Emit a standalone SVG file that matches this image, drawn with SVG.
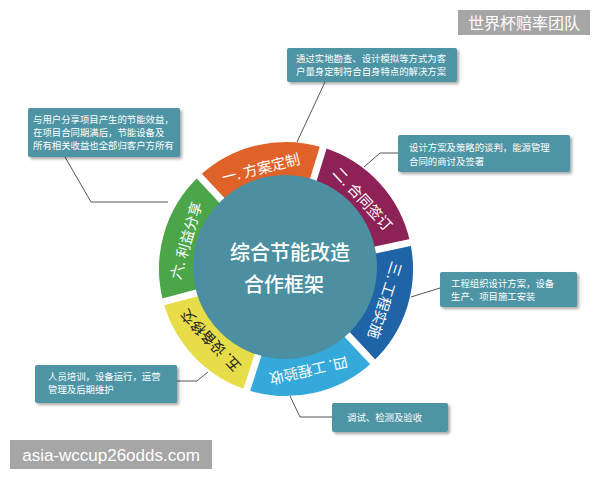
<svg xmlns="http://www.w3.org/2000/svg" width="600" height="480" viewBox="0 0 600 480">
<defs>
<filter id="sh" x="-10%" y="-20%" width="125%" height="150%">
<feDropShadow dx="2" dy="2" stdDeviation="1.5" flood-color="#000" flood-opacity="0.35"/>
</filter>
</defs>
<style>
.box{fill:#4e95a5;filter:url(#sh)}
.bt{font-family:"Noto Sans CJK SC",sans-serif;font-size:9.4px;fill:#fff}
.seg{fill:none;stroke-width:38}
.sl{font-family:"Noto Sans CJK SC",sans-serif;font-size:14.5px;fill:#fff;text-anchor:middle;dominant-baseline:central}
.ct{font-family:"Noto Sans CJK SC",sans-serif;font-size:20px;fill:#fff;text-anchor:middle;font-weight:500}
.cn{fill:none;stroke:#555;stroke-width:1}
.gap{stroke:#fff;stroke-width:7}
.wm{fill:#a6a6a6}
</style>
<rect width="600" height="480" fill="#fff"/>

<g id="connectors">
<polyline class="cn" points="325,82 297,142"/>
<polyline class="cn" points="65,157 91,202 168,202"/>
<polyline class="cn" points="398,153 380,153 364,167"/>
<polyline class="cn" points="440,288 411,297"/>
<polyline class="cn" points="177,381 197,381 208,372"/>
<polyline class="cn" points="332,417 300,417 290,396"/>
</g>

<g id="ring">
<circle id="seg1" class="seg" cx="286" cy="269" r="108" stroke="#df6228" pathLength="360" stroke-dasharray="60 300" transform="rotate(227 286 269)"/>
<circle id="seg2" class="seg" cx="286" cy="269" r="108" stroke="#8c2256" pathLength="360" stroke-dasharray="61 299" transform="rotate(-73 286 269)"/>
<circle id="seg3" class="seg" cx="286" cy="269" r="108" stroke="#1f64a6" pathLength="360" stroke-dasharray="59 301" transform="rotate(-12 286 269)"/>
<circle id="seg4" class="seg" cx="286" cy="269" r="108" stroke="#34a9da" pathLength="360" stroke-dasharray="61 299" transform="rotate(47 286 269)"/>
<circle id="seg5" class="seg" cx="286" cy="269" r="108" stroke="#e6dd48" pathLength="360" stroke-dasharray="57 303" transform="rotate(108 286 269)"/>
<circle id="seg6" class="seg" cx="286" cy="269" r="108" stroke="#4ba64a" pathLength="360" stroke-dasharray="62 298" transform="rotate(165 286 269)"/>
<line class="gap" x1="286" y1="269" x2="325.5" y2="139.9"/>
<line class="gap" x1="286" y1="269" x2="418" y2="240.9"/>
<line class="gap" x1="286" y1="269" x2="378.1" y2="367.7"/>
<line class="gap" x1="286" y1="269" x2="244.3" y2="397.4"/>
<line class="gap" x1="286" y1="269" x2="155.6" y2="303.9"/>
<line class="gap" x1="286" y1="269" x2="193.9" y2="170.3"/>
<text class="sl" x="286" y="164" transform="rotate(-14 286 269)">一. 方案定制</text>
<text class="sl" x="286" y="164" transform="rotate(47.5 286 269)">二. 合同签订</text>
<text class="sl" x="286" y="164" transform="rotate(107.5 286 269)">三. 工程实施</text>
<text class="sl" x="286" y="164" transform="rotate(167.5 286 269)">四. 工程验收</text>
<text class="sl" x="286" y="164" transform="rotate(226.5 286 269)" style="fill:#222">五. 设备移交</text>
<text class="sl" x="286" y="164" transform="rotate(286 286 269)">六. 利益分享</text>
</g>

<g id="center">
<circle cx="285" cy="267" r="92" fill="#4b8fa0"/>
<text class="ct" x="290" y="260">综合节能改造</text>
<text class="ct" x="284" y="292">合作框架</text>
</g>

<g id="box-top">
<rect class="box" x="287" y="48" width="170" height="34" rx="2"/>
<text class="bt" x="296" y="62">通过实地勘查、设计模拟等方式为客</text>
<text class="bt" x="296" y="75">户量身定制符合自身特点的解决方案</text>
</g>
<g id="box-left">
<rect class="box" x="28" y="108" width="152" height="49" rx="2"/>
<text class="bt" x="33" y="123">与用户分享项目产生的节能效益，</text>
<text class="bt" x="33" y="136">在项目合同期满后，节能设备及</text>
<text class="bt" x="33" y="149">所有相关收益也全部归客户方所有</text>
</g>
<g id="box-right1">
<rect class="box" x="398" y="135" width="172" height="37" rx="2"/>
<text class="bt" x="409" y="151">设计方案及策略的谈判，能源管理</text>
<text class="bt" x="409" y="165">合同的商讨及签署</text>
</g>
<g id="box-right2">
<rect class="box" x="440" y="272" width="137" height="35" rx="2"/>
<text class="bt" x="451" y="287">工程组织设计方案，设备</text>
<text class="bt" x="451" y="300">生产、项目施工安装</text>
</g>
<g id="box-bl">
<rect class="box" x="35" y="365" width="142" height="38" rx="2"/>
<text class="bt" x="48" y="380">人员培训，设备运行，运营</text>
<text class="bt" x="48" y="393">管理及后期维护</text>
</g>
<g id="box-bottom">
<rect class="box" x="332" y="403" width="116" height="29" rx="2"/>
<text class="bt" x="347" y="421">调试、检测及验收</text>
</g>

<g id="wm-top">
<rect class="wm" x="458" y="10" width="132" height="25"/>
<text x="524" y="29" text-anchor="middle" font-family="Noto Sans CJK SC, sans-serif" font-size="16" fill="#fff">世界杯赔率团队</text>
</g>
<g id="wm-bottom">
<rect class="wm" x="10" y="440" width="202" height="29"/>
<text x="111" y="461" text-anchor="middle" font-family="Liberation Sans, Arial, sans-serif" font-size="17" fill="#fff">asia-wccup26odds.com</text>
</g>
</svg>
